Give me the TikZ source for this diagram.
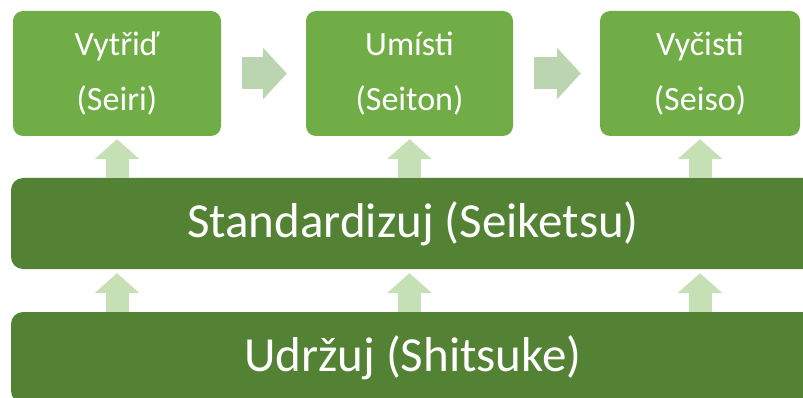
\documentclass[tikz,border=0pt]{standalone}
\usepackage{fontspec}
\setmainfont{Carlito}
\usetikzlibrary{arrows.meta,calc}
\definecolor{stepgreen}{HTML}{70AD47}
\definecolor{bargreen}{HTML}{548235}
\definecolor{uplight}{HTML}{C5E0B4}
\definecolor{sidelight}{HTML}{BCD5B1}
\tikzset{
  stage/.style={fill=stepgreen,rounded corners=10pt,minimum height=125pt,
    inner sep=0pt,align=center,text=white,font=\fontsize{34}{55}\selectfont},
  layer/.style={fill=bargreen,rounded corners=12pt,minimum width=804pt,
    minimum height=91pt,inner sep=0pt,text=white,font=\fontsize{49}{55}\selectfont},
  uparr/.style={draw=uplight,line width=23pt,
    -{Triangle[width=45pt,length=20pt,line width=0pt]}},
  sidearr/.style={draw=sidelight,line width=32pt,
    -{Triangle[width=52pt,length=24pt,line width=0pt]}}
}
\begin{document}
\begin{tikzpicture}[x=1pt,y=-1pt]
  \clip (0,0) rectangle (803,398);
  \node[stage,minimum width=208pt] (seiri) at (117,73.5) {Vytřiď\\(Seiri)};
  \node[stage,minimum width=207pt] (seiton) at (409.5,73.5) {Umísti\\(Seiton)};
  \node[stage,minimum width=200pt] (seiso) at (700,73.5) {Vyčisti\\(Seiso)};
  \node[layer] (seiketsu) at (413,223.5) {Standardizuj (Seiketsu)};
  \node[layer] (shitsuke) at (413,357.5) {Udržuj (Shitsuke)};

  \draw[sidearr] ($(seiri.east)+(21,0)$) -- ($(seiton.west)+(-19,0)$);
  \draw[sidearr] ($(seiton.east)+(21,0)$) -- ($(seiso.west)+(-19,0)$);

  \foreach \s in {seiri,seiton,seiso}{
    \draw[uparr] (\s.south |- seiketsu.north) -- ($(\s.south)+(0,3)$);
    \draw[uparr] (\s.south |- shitsuke.north) -- ($(\s.south |- seiketsu.south)+(0,4)$);
  }
\end{tikzpicture}
\end{document}
